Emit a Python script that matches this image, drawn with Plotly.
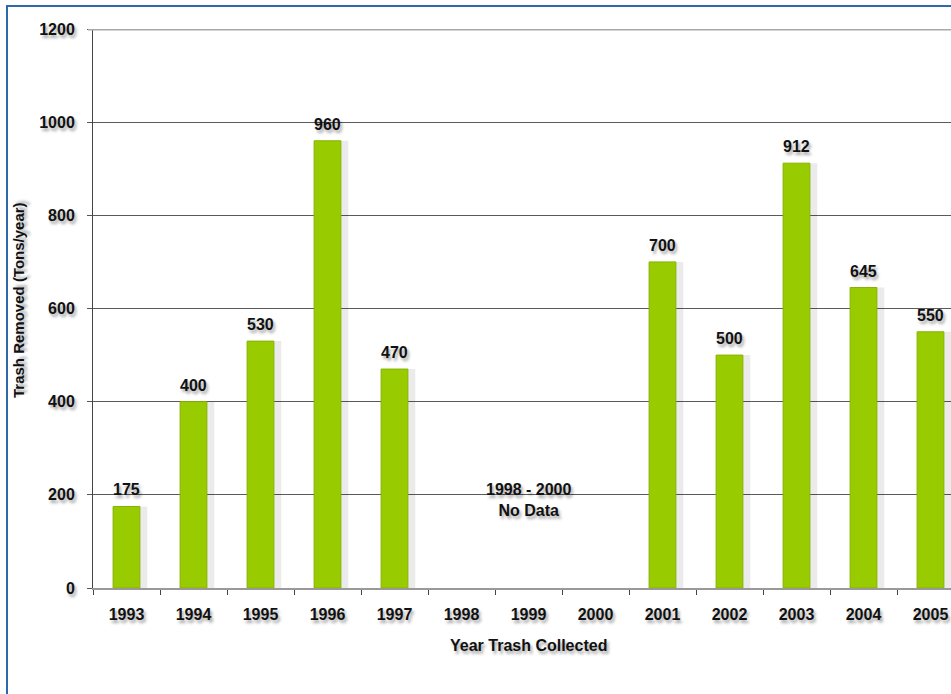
import plotly.graph_objects as go

# Annual trash removal (tons/year); 1998-2000 have no data
years = ["1993", "1994", "1995", "1996", "1997", "1998", "1999", "2000",
         "2001", "2002", "2003", "2004", "2005"]
tons = [175, 400, 530, 960, 470, None, None, None, 700, 500, 912, 645, 550]
y_ticks = [0, 200, 400, 600, 800, 1000, 1200]

W, H = 951, 694
L, T, B = 93, 29, 106
slot_px = 67.0  # width of one category slot in pixels
n_visible = (W - L) / slot_px

FONT = "Liberation Sans, Arial, sans-serif"
SHADOW = "2px 3px 3px rgba(0,0,0,0.35)"
BAR = "#99cc00"
TXT = dict(family=FONT, size=16, color="#111", weight="bold", shadow=SHADOW)

fig = go.Figure()

# soft drop shadow behind each bar
fig.add_trace(go.Bar(
    x=years, y=tons, width=0.46, offset=-0.15,
    marker=dict(color="rgba(0,0,0,0.08)", line=dict(width=0)),
    hoverinfo="skip", showlegend=False,
))
fig.add_trace(go.Bar(
    x=years, y=tons, width=0.40, offset=-0.20,
    marker=dict(color=BAR, line=dict(color="#86b300", width=1)),
    showlegend=False,
))

# value labels above the bars (x given as category index)
for i, v in enumerate(tons):
    if v is None:
        continue
    fig.add_annotation(
        x=i, y=v, text=str(v), showarrow=False, yanchor="bottom", yshift=6,
        font=TXT,
    )

mid = years.index("1999")
fig.add_annotation(
    x=mid, y=189, text="1998 - 2000<br>No Data", showarrow=False,
    yanchor="middle", align="center", font=TXT,
)

# axis titles
fig.add_annotation(
    x=mid, y=0, yshift=-57, text="Year Trash Collected", showarrow=False,
    yanchor="middle", font=TXT,
)
fig.add_annotation(
    xref="paper", yref="paper", x=(18 - L) / (W - L), y=(588 - 300) / (588 - T),
    xanchor="center", yanchor="middle",
    text="Trash Removed (Tons/year)", textangle=-90, showarrow=False,
    font=dict(TXT, size=15),
)

# heavier top gridline
fig.add_shape(type="line", xref="paper", yref="y", x0=-5 / (W - L), x1=1.0,
              y0=1200, y1=1200, line=dict(color="#a8a8a8", width=3), layer="above")

# blue frame (runs off the right and bottom edges)
fig.add_shape(type="rect", xref="paper", yref="paper",
              x0=(7 - L) / (W - L), x1=1.2,
              y0=-0.3, y1=(588 - 6) / (588 - T),
              line=dict(color="#2f6aa8", width=2), layer="below")

fig.update_layout(
    width=W, height=H,
    margin=dict(l=L, r=0, t=T, b=B),
    paper_bgcolor="white", plot_bgcolor="white",
    barmode="overlay", bargap=0.6,
    font=dict(family=FONT, size=16, color="#111"),
)
fig.update_xaxes(
    type="category", range=[-0.5, n_visible - 0.5],
    showgrid=False, showline=True, linecolor="#999999", linewidth=2,
    ticks="outside", ticklen=5, tickcolor="#444", tickson="boundaries",
    ticklabelstandoff=11,
    tickfont=TXT, fixedrange=True,
)
fig.update_yaxes(
    range=[0, 1200], tickvals=y_ticks, ticktext=[str(t) for t in y_ticks],
    showgrid=True, gridcolor="#5a5a5a", gridwidth=1,
    showline=True, linecolor="#444", linewidth=1,
    ticks="outside", ticklen=5, tickcolor="#555", ticklabelstandoff=9,
    tickfont=TXT, zeroline=False, fixedrange=True,
)

fig.write_html("out.html")
